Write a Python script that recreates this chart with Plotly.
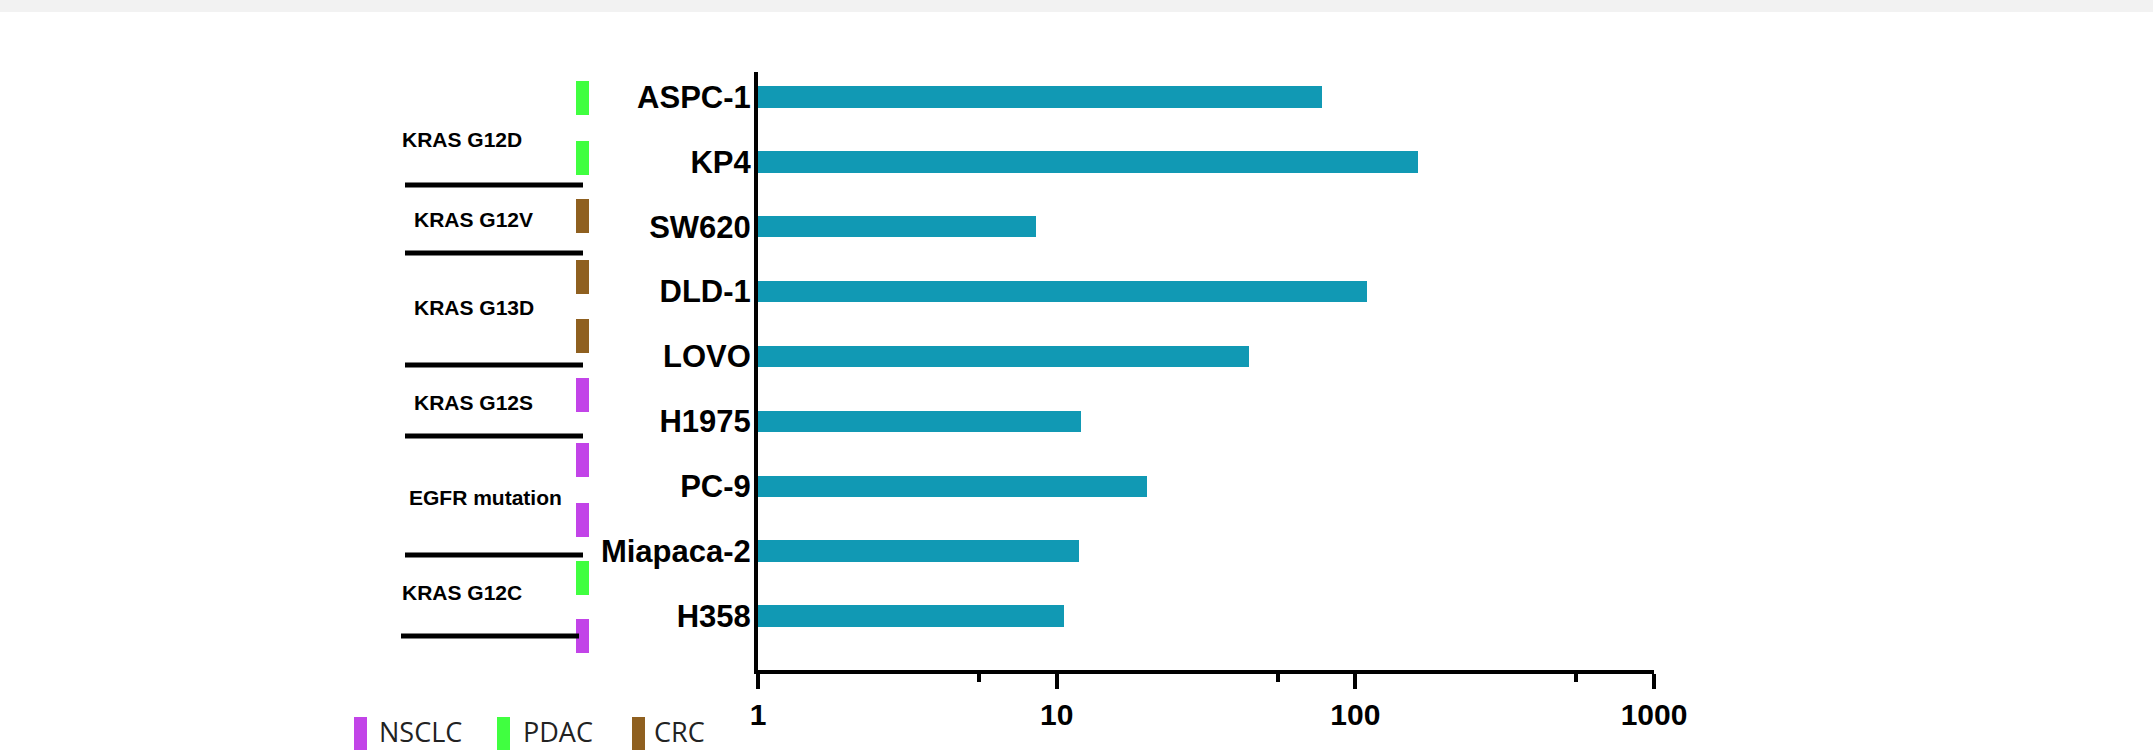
import plotly.graph_objects as go

# ---- data ----
cell_lines = ["ASPC-1", "KP4", "SW620", "DLD-1", "LOVO", "H1975", "PC-9", "Miapaca-2", "H358"]
values = [77.6, 162.0, 8.5, 109.5, 44.2, 12.1, 20.1, 11.9, 10.55]
x_tickvals = [1, 10, 100, 1000]
x_ticktext = ["1", "10", "100", "1000"]
x_minor = [5.5, 55, 550]

group_labels = ["KRAS G12D", "KRAS G12V", "KRAS G13D", "KRAS G12S", "EGFR mutation", "KRAS G12C"]
tissue_strip = ["PDAC", "PDAC", "CRC", "CRC", "CRC", "NSCLC", "NSCLC", "NSCLC", "PDAC", "NSCLC"]
legend_items = ["NSCLC", "PDAC", "CRC"]

tissue_colors = {"NSCLC": "#c244e8", "PDAC": "#40ff40", "CRC": "#8f6020"}
bar_color = "#1199b4"

# ---- layout geometry (pixels) ----
W_FIG, H_FIG = 2153, 750
L, R, T, B = 758, 1654, 72, 670
PW, PH = R - L, B - T


def px(x):
    return (x - L) / PW


def py(y):
    return (B - y) / PH


fig = go.Figure()
fig.add_trace(go.Bar(
    x=values, y=cell_lines, orientation="h",
    marker=dict(color=bar_color, line=dict(width=0)),
    width=0.33, showlegend=False, hoverinfo="x+y",
))

shapes = []
annotations = []

# top grey band
shapes.append(dict(type="rect", xref="paper", yref="paper", x0=px(0), x1=px(W_FIG),
                   y0=py(12), y1=py(0), fillcolor="#f2f2f2", line=dict(width=0), layer="below"))

# tissue strip squares
sq_tops = [81, 141, 199, 260, 319, 378, 443, 503, 561, 619]
for t, top in zip(tissue_strip, sq_tops):
    shapes.append(dict(type="rect", xref="paper", yref="paper", x0=px(576), x1=px(589),
                       y0=py(top + 34), y1=py(top), fillcolor=tissue_colors[t], line=dict(width=0)))

# separator lines
sep = [(405, 583, 185), (405, 583, 253), (405, 583, 365), (405, 583, 436), (405, 583, 555), (401, 579, 636)]
for x0, x1, y in sep:
    shapes.append(dict(type="line", xref="paper", yref="paper", x0=px(x0), x1=px(x1),
                       y0=py(y), y1=py(y), line=dict(color="black", width=5)))

# group labels
lab_pos = [(400, 139), (412, 220), (412, 307), (412, 402), (407, 497), (400, 592)]
for txt, (x, y) in zip(group_labels, lab_pos):
    annotations.append(dict(text="<b>" + txt + "</b>", xref="paper", yref="paper", x=px(x), y=py(y),
                            xanchor="left", yanchor="middle", showarrow=False,
                            font=dict(family="Liberation Sans, Arial", size=21, color="black")))

# legend
leg_sq = [354, 497, 632]
leg_tx = [377, 521, 652]
for name, sx, tx in zip(legend_items, leg_sq, leg_tx):
    shapes.append(dict(type="rect", xref="paper", yref="paper", x0=px(sx), x1=px(sx + 13),
                       y0=py(752), y1=py(717), fillcolor=tissue_colors[name], line=dict(width=0)))
    annotations.append(dict(text=name, xref="paper", yref="paper", x=px(tx), y=py(731),
                            xanchor="left", yanchor="middle", showarrow=False,
                            font=dict(family="Open Sans", size=27, color="#222222")))

fig.update_layout(
    width=W_FIG, height=H_FIG,
    margin=dict(l=L, r=W_FIG - R, t=T, b=H_FIG - B, pad=0),
    paper_bgcolor="white", plot_bgcolor="white",
    shapes=shapes, annotations=annotations,
    bargap=0,
    xaxis=dict(
        type="log", range=[0, 3], showgrid=False, zeroline=False,
        showline=True, linecolor="black", linewidth=4,
        ticks="outside", ticklen=15, tickwidth=4, tickcolor="black",
        tickvals=x_tickvals, ticktext=x_ticktext,
        tickfont=dict(family="Liberation Sans, Arial", size=30, color="black", weight="bold"),
        minor=dict(tickvals=x_minor, ticks="outside", ticklen=8, tickwidth=4, tickcolor="black"),
    ),
    yaxis=dict(
        type="category", categoryorder="array", categoryarray=cell_lines,
        range=[8.832, -0.385], showgrid=False, zeroline=False,
        showline=True, linecolor="black", linewidth=4, ticks="",
        ticklabelstandoff=-3,
        tickfont=dict(family="Liberation Sans, Arial", size=31, color="black", weight="bold"),
    ),
)

fig.write_html("out.html")
